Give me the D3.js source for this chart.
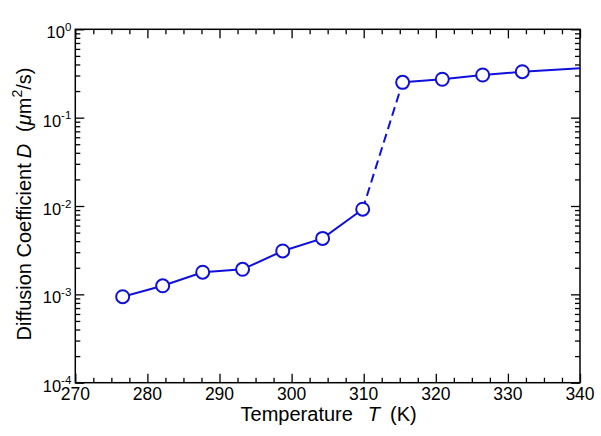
<!DOCTYPE html>
<html>
<head>
<meta charset="utf-8">
<script src="https://cdn.jsdelivr.net/npm/d3@7"></script>
<style>
  html, body { margin: 0; padding: 0; background: #fff; }
  svg { display: block; }
  text { font-family: "Liberation Sans", Arial, Helvetica, sans-serif; fill: #000; }
</style>
</head>
<body>
<svg id="chart" width="601" height="436"></svg>
<script>
// ---- data ----
const temperatures = [276.57, 282.12, 287.67, 293.2, 298.77, 304.3, 309.86, 315.4, 320.9, 326.5, 332.0];
const diffusion    = [0.00094, 0.00125, 0.00178, 0.00192, 0.0031, 0.0043, 0.0092, 0.251, 0.272, 0.304, 0.331];
// line continues past the last marker to the right edge
const tailT = [340];
const tailD = [0.362];
// index of the segment drawn dashed (between point i and i+1)
const dashedSegment = 6;
const xMajorTicks = [270, 280, 290, 300, 310, 320, 330, 340];
const yMajorExponents = [0, -1, -2, -3, -4];

// ---- layout ----
const svg = d3.select("#chart");
const L = 75.3, R = 580, T = 29.3, B = 382.7;
const blue = "#1010dc";

const x = d3.scaleLinear().domain([270, 340]).range([L, R]);
const y = d3.scaleLog().domain([1e-4, 1]).range([B, T]);

const xMinor = d3.range(270, 340.001, 2.5).filter(v => Math.abs(v % 10) > 1e-6);
const yMajorVals = yMajorExponents.map(e => Math.pow(10, e));
const yMinor = [];
for (let e = -4; e < 0; e++) for (let k = 2; k <= 9; k++) yMinor.push(k * Math.pow(10, e));

function styleAxis(g) {
  g.select(".domain").remove();
  g.selectAll("line").attr("stroke", "#000").attr("stroke-width", 1.3);
  g.selectAll("text").remove();
}

// ticks (inward)
const gx = svg.append("g");
gx.append("g").attr("transform", `translate(0,${B})`).call(d3.axisBottom(x).tickValues(xMajorTicks).tickSize(-9)).call(styleAxis);
gx.append("g").attr("transform", `translate(0,${B})`).call(d3.axisBottom(x).tickValues(xMinor).tickSize(-5)).call(styleAxis);
gx.append("g").attr("transform", `translate(0,${T})`).call(d3.axisTop(x).tickValues(xMajorTicks).tickSize(-9)).call(styleAxis);
gx.append("g").attr("transform", `translate(0,${T})`).call(d3.axisTop(x).tickValues(xMinor).tickSize(-5)).call(styleAxis);
gx.append("g").attr("transform", `translate(${L},0)`).call(d3.axisLeft(y).tickValues(yMajorVals).tickSize(-9)).call(styleAxis);
gx.append("g").attr("transform", `translate(${L},0)`).call(d3.axisLeft(y).tickValues(yMinor).tickSize(-5)).call(styleAxis);
gx.append("g").attr("transform", `translate(${R},0)`).call(d3.axisRight(y).tickValues(yMajorVals).tickSize(-9)).call(styleAxis);
gx.append("g").attr("transform", `translate(${R},0)`).call(d3.axisRight(y).tickValues(yMinor).tickSize(-5)).call(styleAxis);

// frame
svg.append("rect").attr("x", L).attr("y", T).attr("width", R - L).attr("height", B - T)
  .attr("fill", "none").attr("stroke", "#000").attr("stroke-width", 1.5);

// x tick labels
svg.append("g").selectAll("text").data(xMajorTicks).join("text")
  .attr("x", d => x(d)).attr("y", B + 17.5)
  .attr("text-anchor", "middle").attr("font-size", 17.5).text(d => d);

// y tick labels: 10^e
const yl = svg.append("g").selectAll("text").data(yMajorExponents).join("text")
  .attr("x", L - 4).attr("y", d => y(Math.pow(10, d)) + 9)
  .attr("text-anchor", "end").attr("font-size", 16.5);
yl.append("tspan").text("10");
yl.append("tspan").attr("dy", -7.5).attr("font-size", 11.5).text(d => d);

// axis titles
const xt = svg.append("text").attr("x", (L + R) / 2 + 1).attr("y", 421)
  .attr("text-anchor", "middle").attr("font-size", 20);
xt.append("tspan").text("Temperature");
xt.append("tspan").attr("dx", 15).attr("font-style", "italic").text("T");
xt.append("tspan").attr("dx", 10).text("(K)");

const yt = svg.append("text").attr("transform", `translate(31,204) rotate(-90)`)
  .attr("text-anchor", "middle").attr("font-size", 20);
yt.append("tspan").text("Diffusion Coefficient");
yt.append("tspan").attr("dx", 5).attr("font-style", "italic").text("D");
yt.append("tspan").attr("dx", 12).text("(");
yt.append("tspan").attr("font-style", "italic").text("μ");
yt.append("tspan").text("m");
yt.append("tspan").attr("dy", -9).attr("font-size", 14).text("2");
yt.append("tspan").attr("dy", 9).text("/s)");

// data line
const pts = temperatures.map((t, i) => ({ t, d: diffusion[i] }));
const tail = tailT.map((t, i) => ({ t, d: tailD[i] }));
const line = d3.line().x(p => x(p.t)).y(p => y(p.d));

const g = svg.append("g");
g.append("path").datum(pts.slice(0, dashedSegment + 1))
  .attr("d", line).attr("fill", "none").attr("stroke", blue).attr("stroke-width", 2);
g.append("path").datum(pts.slice(dashedSegment, dashedSegment + 2))
  .attr("d", line).attr("fill", "none").attr("stroke", blue).attr("stroke-width", 2)
  .attr("stroke-dasharray", "9,5");
g.append("path").datum(pts.slice(dashedSegment + 1).concat(tail))
  .attr("d", line).attr("fill", "none").attr("stroke", blue).attr("stroke-width", 2);

g.selectAll("circle").data(pts).join("circle")
  .attr("cx", p => x(p.t)).attr("cy", p => y(p.d)).attr("r", 6.5)
  .attr("fill", "#fff").attr("stroke", blue).attr("stroke-width", 2);
</script>
</body>
</html>
